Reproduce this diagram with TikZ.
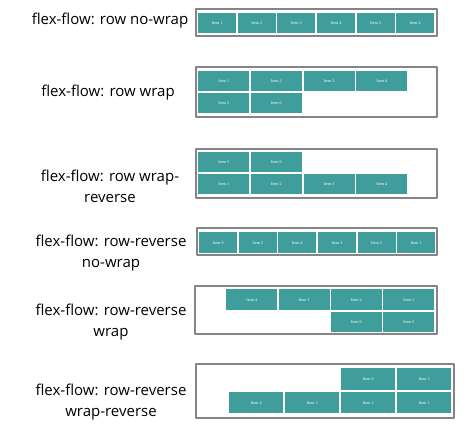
\documentclass[tikz,border=0pt]{standalone}
\usepackage{fontspec}
\setmainfont{Open Sans}
\newfontfamily\itemfont{Liberation Serif}
\definecolor{itemteal}{HTML}{3F9E9C}
\definecolor{framegray}{HTML}{858585}

\begin{document}
\begin{tikzpicture}[x=1pt, y=-1pt, line join=round]
\tikzset{flexbox/.style={draw=framegray, line width=1.2pt},
  flexitem/.style={fill=itemteal, anchor=north west, inner sep=0pt, minimum height=20pt, text=white, font=\itemfont\fontsize{4.2}{5}\selectfont},
  flexlabel/.style={align=center, font=\fontsize{15}{21}\selectfont}}
\useasboundingbox (0,0) rectangle (474,438);

% labels
\node[flexlabel] (lab1) at (110,21) {flex-flow: row no-wrap};
\node[flexlabel] (lab2) at (108,93) {flex-flow: row wrap};
\node[flexlabel] (lab3) at (110,186) {flex-flow: row wrap-\\reverse};
\node[flexlabel] (lab4) at (111,253) {flex-flow: row-reverse\\no-wrap};
\node[flexlabel] (lab5) at (111,322) {flex-flow: row-reverse\\wrap};
\node[flexlabel] (lab6) at (111,402) {flex-flow: row-reverse\\wrap-reverse};

% containers
\draw[flexbox] (196,9) rectangle (437,36);
\draw[flexbox] (196,67) rectangle (437,117);
\draw[flexbox] (196,149) rectangle (437,198);
\draw[flexbox] (197,228) rectangle (437,255);
\draw[flexbox] (195,286) rectangle (437,334);
\draw[flexbox] (196,364) rectangle (454,418);

% row no-wrap
\foreach \i in {1,...,6}
  \node[flexitem, minimum width=38pt] (nw\i) at ({198+(\i-1)*39.6},13) {Item \i};

% row wrap
\foreach \i in {1,...,4}
  \node[flexitem, minimum width=51pt] (w\i) at ({198+(\i-1)*52.7},71) {Item \i};
\foreach \i in {5,6}
  \node[flexitem, minimum width=51pt] (w\i) at ({198+(\i-5)*52.7},93) {Item \i};

% row wrap-reverse
\foreach \i in {5,6}
  \node[flexitem, minimum width=51pt] (wr\i) at ({198+(\i-5)*52.7},152) {Item \i};
\foreach \i in {1,...,4}
  \node[flexitem, minimum width=51pt] (wr\i) at ({198+(\i-1)*52.7},174) {Item \i};

% row-reverse no-wrap
\foreach \i in {1,...,6}{
  \pgfmathtruncatemacro\k{7-\i}
  \node[flexitem, minimum width=38pt, minimum height=21pt] (rn\k) at ({199+(\i-1)*39.6},232) {Item \k};
}

% row-reverse wrap
\foreach \i in {1,...,4}
  \node[flexitem, minimum width=51pt, minimum height=21pt] (rw\i) at ({383-(\i-1)*52.3},289) {Item \i};
\foreach \i in {5,6}
  \node[flexitem, minimum width=51pt] (rw\i) at ({383-(\i-5)*52.3},312) {Item \i};

% row-reverse wrap-reverse
\foreach \i in {5,6}
  \node[flexitem, minimum width=54pt, minimum height=22pt] (rr\i) at ({397-(\i-5)*56},368) {Item \i};
\foreach \i in {1,...,4}
  \node[flexitem, minimum width=54pt, minimum height=21pt] (rr\i) at ({397-(\i-1)*56},392) {Item \i};
\end{tikzpicture}
\end{document}
